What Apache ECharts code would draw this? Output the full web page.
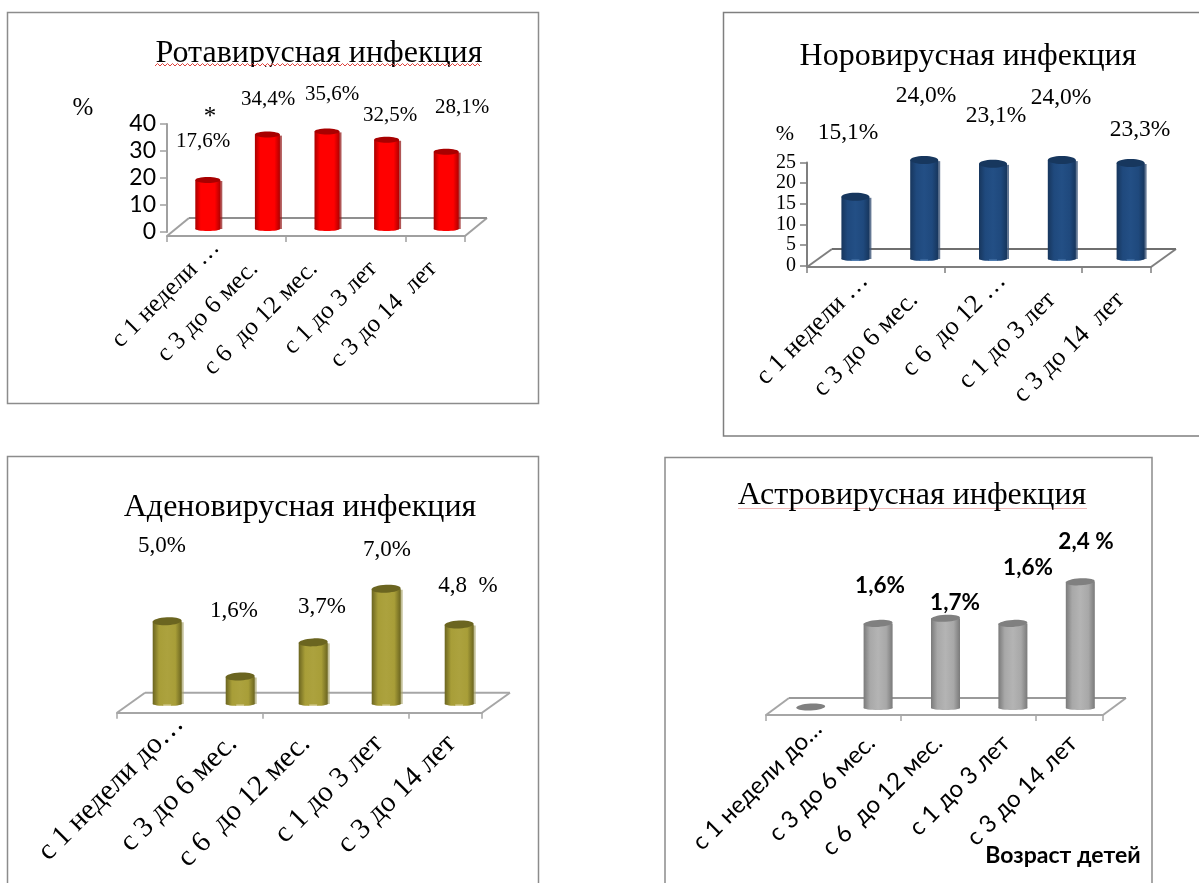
<!DOCTYPE html>
<html>
<head>
<meta charset="utf-8">
<style>html,body{margin:0;padding:0;background:#fff}#c{width:1199px;height:883px}</style>
<script src="https://cdn.jsdelivr.net/npm/echarts@6/dist/echarts.min.js"></script>
</head>
<body>
<div id="c"></div>
<script>
// Infection share by children's age group
const rotaTicks = ['с 1 недели …', 'с 3 до 6 мес.', 'с 6  до 12 мес.', 'с 1 до 3 лет', 'с 3 до 14  лет'];
const noroTicks = ['с 1 недели …', 'с 3 до 6 мес.', 'с 6  до 12 …', 'с 1 до 3 лет', 'с 3 до 14  лет'];
const adenoTicks = ['с 1 недели до…', 'с 3 до 6 мес.', 'с 6  до 12 мес.', 'с 1 до 3 лет', 'с 3 до 14 лет'];
const astroTicks = ['с 1 недели до…', 'с 3 до 6 мес.', 'с 6  до 12 мес.', 'с 1 до 3 лет', 'с 3 до 14 лет'];

const rotaValues = [17.6, 34.4, 35.6, 32.5, 28.1];
const noroValues = [15.1, 24.0, 23.1, 24.0, 23.3];
const adenoValues = [5.0, 1.6, 3.7, 7.0, 4.8];
const astroValues = [0, 1.6, 1.7, 1.6, 2.4];

const rotaLabels = ['17,6%', '34,4%', '35,6%', '32,5%', '28,1%'];
const noroLabels = ['15,1%', '24,0%', '23,1%', '24,0%', '23,3%'];
const adenoLabels = ['5,0%', '1,6%', '3,7%', '7,0%', '4,8  %'];
const astroLabels = ['', '1,6%', '1,7%', '1,6%', '2,4 %'];

const SERIF = '"Liberation Serif"';
const SANS = 'Lato';

// Layout of each panel. labelAt holds the hand-placed data label centres.
const panels = [
  { title: 'Ротавирусная инфекция', ticks: rotaTicks, values: rotaValues, labels: rotaLabels,
    box: [7.5, 12.5, 531, 391], titleAt: [319, 54], titleSize: 32,
    grid: { left: 167, top: 124, width: 298, height: 108 }, axisDrop: 4, depth: [22, 18],
    yMax: 40, yStep: 10, showY: true, yFont: SANS, ySize: 23,
    barDx: 11, baseDy: -3, topDy: -4.5, barW: 25, capRy: 3, tilt: 0, labelDx: 19, labelMargin: 8, fullPad: 30,
    axisColor: '#a0a0a0', backColor: '#8f8f8f', tickFont: SERIF, tickSize: 25,
    colors: ['#a90000', '#ff0000', '#ff0000', '#b00000', '#a80000'], shade: 'rgba(150,30,30,0.75)', patch: null,
    labelFont: SERIF, labelSize: 21, labelWeight: 'normal',
    labelAt: [[203, 141], [268, 99], [332, 94], [390, 115], [462, 107]] },
  { title: 'Норовирусная инфекция', ticks: noroTicks, values: noroValues, labels: noroLabels,
    box: [723.5, 12.5, 500, 423.5], titleAt: [968, 57], titleSize: 32,
    grid: { left: 807, top: 162.5, width: 344, height: 103 }, axisDrop: 1.5, depth: [25, 18],
    yMax: 25, yStep: 5, showY: true, yFont: SERIF, ySize: 20,
    barDx: 14, baseDy: -6.5, topDy: -6.5, barW: 28, capRy: 4, tilt: 0, labelDx: 23, labelMargin: 10, fullPad: 27,
    axisColor: '#7f7f7f', backColor: '#6f6f6f', tickFont: SERIF, tickSize: 26,
    colors: ['#17365d', '#234f85', '#1f497d', '#17365d', '#17375e'], shade: 'rgba(60,85,120,0.8)', patch: '#4f7cb0',
    labelFont: SERIF, labelSize: 23.5, labelWeight: 'normal',
    labelAt: [[848, 133], [926, 96], [996, 116], [1061, 98], [1140, 130]] },
  { title: 'Аденовирусная инфекция', ticks: adenoTicks, values: adenoValues, labels: adenoLabels,
    box: [7.5, 456.5, 531, 470], titleAt: [300, 508], titleSize: 32,
    grid: { left: 117, top: 578, width: 365, height: 130 }, axisDrop: 4.7, depth: [28, 20],
    yMax: 8, yStep: 2, showY: false,
    barDx: 13.7, baseDy: -4, topDy: -5.5, barW: 29, capRy: 4, tilt: 0.05, labelDx: 26, labelMargin: 7, fullPad: 28,
    axisColor: '#a6a6a6', backColor: '#a6a6a6', tickFont: SERIF, tickSize: 29,
    colors: ['#6b6520', '#aca23e', '#a89e38', '#6b6520', '#6b6520'], shade: 'rgba(170,165,110,0.7)', patch: '#d8d09a',
    labelFont: SERIF, labelSize: 23, labelWeight: 'normal',
    labelAt: [[162, 546], [234, 611], [322, 607], [387, 550], [468, 586]] },
  { title: 'Астровирусная инфекция', ticks: astroTicks, values: astroValues, labels: astroLabels,
    box: [665, 457.5, 487, 470], titleAt: [912, 496], titleSize: 32,
    grid: { left: 766, top: 587, width: 337, height: 125 }, axisDrop: 3, depth: [23, 17],
    yMax: 2.4, yStep: 0.4, showY: false,
    barDx: 11, baseDy: -4, topDy: -5.2, barW: 29, capRy: 3.5, tilt: 0.06, labelDx: 18, labelMargin: 10, fullPad: 20,
    axisColor: '#a6a6a6', backColor: '#9a9a9a', tickFont: SANS, tickSize: 24,
    colors: ['#7a7a7a', '#b4b4b4', '#a8a8a8', '#7a7a7a', '#808080'], shade: null, patch: null,
    labelFont: SANS, labelSize: 22.5, labelWeight: 'bold',
    labelAt: [null, [880, 586], [955, 603], [1028, 568], [1086, 542]] }
];

const grids = [], xAxes = [], yAxes = [], series = [], graphics = [];

panels.forEach((p, n) => {
  const plot = grids.length;
  grids.push(Object.assign({ containLabel: false }, p.grid));
  // Tick labels sit in a twin grid nudged sideways, as the floor is skewed.
  grids.push(Object.assign({ containLabel: false }, p.grid, { left: p.grid.left + p.labelDx }));

  xAxes.push({
    type: 'category', gridIndex: plot, data: p.ticks, offset: p.axisDrop,
    axisLine: { show: true, onZero: false, lineStyle: { color: p.axisColor, width: 2 } },
    axisTick: { show: true, length: 6, lineStyle: { color: p.axisColor, width: 1.5 } },
    axisLabel: { show: false }
  });
  const labelStyle = { fontFamily: p.tickFont, fontSize: p.tickSize, color: '#000' };
  xAxes.push({
    type: 'category', gridIndex: plot + 1, data: p.ticks, offset: p.axisDrop,
    axisLine: { show: false }, axisTick: { show: false },
    axisLabel: Object.assign({
      show: true, interval: 0, rotate: 45, margin: p.labelMargin, hideOverlap: false,
      // Shortened names reach further up the diagonal than the complete ones.
      formatter: v => (v.endsWith('…') ? '{cut|' : '{full|') + v + '}',
      rich: {
        cut: Object.assign({}, labelStyle),
        full: Object.assign({ padding: [0, p.fullPad, 0, 0] }, labelStyle)
      }
    }, labelStyle)
  });
  yAxes.push({
    type: 'value', gridIndex: plot, min: 0, max: p.yMax, interval: p.yStep, show: p.showY,
    splitLine: { show: false },
    axisLine: { show: true, lineStyle: { color: p.axisColor, width: 2 } },
    axisTick: { show: true, length: 7, lineStyle: { color: p.axisColor, width: 1.5 } },
    axisLabel: { show: true, margin: 11, fontFamily: p.yFont, fontSize: p.ySize, color: '#000' }
  });
  yAxes.push({ type: 'value', gridIndex: plot + 1, min: 0, max: p.yMax, show: false });

  // Skewed floor behind the cylinders
  series.push({
    type: 'custom', xAxisIndex: plot, yAxisIndex: plot, z: 1, silent: true, clip: false,
    data: [[0, 0]],
    renderItem(params, api) {
      const sys = params.coordSys;
      const front = api.coord([0, 0])[1] + p.axisDrop;
      const [dx, dy] = p.depth;
      return {
        type: 'group',
        children: [
          { type: 'line', shape: { x1: sys.x, y1: front, x2: sys.x + dx, y2: front - dy }, style: { stroke: p.axisColor, lineWidth: 2 } },
          { type: 'line', shape: { x1: sys.x + sys.width, y1: front, x2: sys.x + sys.width + dx, y2: front - dy }, style: { stroke: p.axisColor, lineWidth: 2 } },
          { type: 'line', shape: { x1: sys.x + dx, y1: front - dy, x2: sys.x + sys.width + dx, y2: front - dy }, style: { stroke: p.backColor, lineWidth: 2 } }
        ]
      };
    }
  });

  // Cylinders with a shaded body and a darker cap
  series.push({
    type: 'custom', xAxisIndex: plot, yAxisIndex: plot, z: 3, silent: true, clip: false,
    data: p.values.map((v, i) => [i, v]),
    encode: { x: 0, y: 1 },
    renderItem(params, api) {
      const i = api.value(0), v = api.value(1);
      const [cx0, y0] = api.coord([i, 0]);
      const top = api.coord([i, v])[1] + p.topDy;
      const cx = cx0 + p.barDx, base = y0 + p.baseDy;
      const w = p.barW, ry = p.capRy;
      const c = p.colors;
      const body = {
        type: 'linear', x: 0, y: 0, x2: 1, y2: 0,
        colorStops: [
          { offset: 0, color: c[0] }, { offset: 0.22, color: c[2] },
          { offset: 0.5, color: c[1] }, { offset: 0.78, color: c[2] }, { offset: 1, color: c[3] }
        ]
      };
      if (v === 0) {
        return {
          type: 'ellipse', shape: { cx, cy: base - 1, rx: w / 2, ry }, rotation: p.tilt, originX: cx, originY: base - 1,
          style: { fill: c[4] }
        };
      }
      const parts = [];
      if (p.shade) {
        parts.push({ type: 'rect', shape: { x: cx + w / 2 - 1, y: top + 1, width: 3, height: base - top - 1 }, style: { fill: p.shade } });
      }
      parts.push(
        { type: 'rect', shape: { x: cx - w / 2, y: top, width: w, height: base - top }, style: { fill: body } },
        { type: 'ellipse', shape: { cx, cy: base, rx: w / 2, ry: 2 }, style: { fill: body } },
        { type: 'ellipse', shape: { cx, cy: top, rx: w / 2, ry }, rotation: p.tilt, originX: cx, originY: top, style: { fill: c[4] } }
      );
      if (p.patch) {
        parts.push({ type: 'rect', shape: { x: cx - 4, y: base + 0.5, width: 8, height: 1.5 }, style: { fill: p.patch } });
      }
      return { type: 'group', children: parts };
    }
  });

  // Panel frame, title and hand-placed data labels
  graphics.push({
    type: 'rect', shape: { x: p.box[0], y: p.box[1], width: p.box[2], height: p.box[3] },
    style: { fill: null, stroke: n === 1 ? '#7f7f7f' : '#8c8c8c', lineWidth: 1.5 }, z: 0
  });
  graphics.push({
    type: 'text', x: p.titleAt[0], y: p.titleAt[1], z: 5,
    style: { text: p.title, fontFamily: SERIF, fontSize: p.titleSize, fill: '#000', textAlign: 'center', textVerticalAlign: 'middle' }
  });
  p.labels.forEach((t, i) => {
    if (!t) return;
    const at = p.labelAt[i];
    graphics.push({
      type: 'text', x: at[0], y: at[1], z: 6,
      style: { text: t, fontFamily: p.labelFont, fontSize: p.labelSize, fontWeight: p.labelWeight, fill: '#000', textAlign: 'center', textVerticalAlign: 'middle' }
    });
  });
});

const marks = [
  { text: '%', at: [83, 108], size: 25, font: SERIF },
  { text: '*', at: [210, 117], size: 25, font: SERIF },
  { text: '%', at: [785, 134], size: 22, font: SERIF },
  { text: 'Возраст детей', at: [1063, 856], size: 23, font: SANS, weight: 'bold' }
];
marks.forEach(m => graphics.push({
  type: 'text', x: m.at[0], y: m.at[1], z: 6,
  style: { text: m.text, fontFamily: m.font, fontSize: m.size, fontWeight: m.weight || 'normal', fill: '#000', textAlign: 'center', textVerticalAlign: 'middle' }
}));

// Spell-check squiggle under the first title, thin rule under the last one
const squiggle = [];
for (let x = 155, k = 0; x <= 482; x += 2.5, k++) squiggle.push([x, k % 2 ? 63.5 : 66]);
graphics.push({ type: 'rect', z: 7, shape: { x: 155, y: 67, width: 330, height: 5 }, style: { fill: '#fff' } });
graphics.push({ type: 'polyline', z: 8, shape: { points: squiggle }, style: { stroke: '#e0413c', lineWidth: 1, fill: null } });
graphics.push({ type: 'line', z: 4, shape: { x1: 738, y1: 508.5, x2: 1087, y2: 508.5 }, style: { stroke: '#f0b8b8', lineWidth: 1 } });

const chart = echarts.init(document.getElementById('c'), null, { renderer: 'canvas' });
chart.setOption({
  animation: false,
  backgroundColor: '#fff',
  grid: grids, xAxis: xAxes, yAxis: yAxes, series,
  graphic: { elements: graphics }
});
</script>
</body>
</html>
